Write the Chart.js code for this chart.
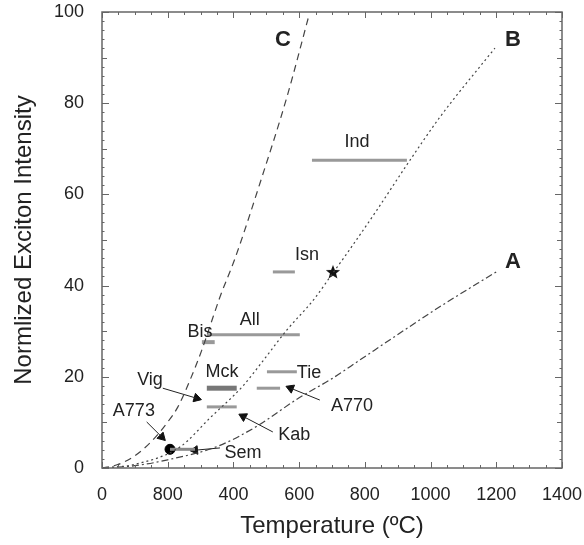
<!DOCTYPE html>
<html>
<head>
<meta charset="utf-8">
<script src="https://cdn.jsdelivr.net/npm/chart.js@4.4.1/dist/chart.umd.min.js"></script>
<style>body{margin:0;background:#fff}</style>
</head>
<body>
<canvas id="excitonChart" width="584" height="545"></canvas>
<script>
// curves: [temperature, intensity]
var curveA = [[0,0],[100,0.5],[200,1.8],[350,4.7],[470,9.1],[600,15.4],[700,19.6],[785,23.7],[907,29.6],[1029,35.4],[1200,43]];
var curveB = [[0,0],[100,0.8],[237,4.6],[329,11],[429,18],[490,23.5],[563,30.3],[643,36.8],[703,42.8],[745,47],[836,56.5],[928,66.5],[1029,77],[1196,92.1]];
var curveC = [[0,0],[46,0.7],[94,2.4],[146,5.5],[198,9.9],[231,13.4],[268,19.3],[304,25.9],[338,33.1],[359,37.5],[405,46],[481,62.5],[563,81.4],[630,99.3]];

// temperature ranges drawn as horizontal bars
var rangeNames = ['Ind', 'Isn', 'All', 'Bis', 'Mck', 'Mck2', 'Tie', 'A770', 'Sem'];
var rangeFrom  = [639, 520, 319, 304, 319, 319, 502, 471, 207];
var rangeTo    = [928, 587, 602, 343, 410, 410, 593, 542, 283];
var rangeLevel = [67.5, 43, 29.2, 27.6, 17.5, 13.4, 21.1, 17.5, 4.1];

// arrows: tip (triangle) and tail (near the label)
var arrowNames = ['Vig', 'A773', 'Kab', 'Sem', 'A770'];
var arrowTip   = [[288,15.3], [182,6.8], [430,11.3], [283,3.9], [574,17.5]];
var arrowTail  = [[185,17.5], [136,10.1], [520,7.9], [359,4.4], [663,14.9]];

var starPoint = [[703,43]];   // Isn
var dotPoint  = [[207,4.1]];  // A773

var tickLabels = ['0', '800', '400', '600', '800', '1000', '1200', '1400'];

function pts(list) {
  return list.map(function (p) { return {x: p[0], y: p[1]}; });
}

var star = document.createElement('canvas');
star.width = star.height = 18;
var sc = star.getContext('2d');
sc.beginPath();
for (var k = 0; k < 10; k++) {
  var r = k % 2 ? 3.2 : 7.5;
  var ang = -Math.PI / 2 + k * Math.PI / 5;
  sc.lineTo(9 + r * Math.cos(ang), 9.5 + r * Math.sin(ang));
}
sc.closePath();
sc.fillStyle = '#111';
sc.fill();

var datasets = [
  {data: pts(curveA), borderDash: [7, 3, 2, 3]},
  {data: pts(curveB), borderDash: [2, 3]},
  {data: pts(curveC), borderDash: [7, 5]}
].map(function (d) {
  d.showLine = true;
  d.borderColor = '#444';
  d.borderWidth = 1.2;
  d.pointRadius = 0;
  d.cubicInterpolationMode = 'monotone';
  return d;
});

rangeNames.forEach(function (name, i) {
  datasets.push({
    data: [{x: rangeFrom[i], y: rangeLevel[i]}, {x: rangeTo[i], y: rangeLevel[i]}],
    showLine: true,
    borderColor: name === 'Mck' ? '#777' : (name === 'Sem' ? '#888' : '#999'),
    borderWidth: name === 'Mck' ? 5 : (name === 'Bis' ? 4 : 3),
    pointRadius: 0
  });
});

arrowNames.forEach(function (name, i) {
  datasets.push({
    data: pts([arrowTail[i], arrowTip[i]]),
    showLine: true,
    borderColor: '#222',
    borderWidth: 1,
    pointRadius: 0
  });
});

datasets.push({
  data: pts(arrowTip),
  pointStyle: 'triangle',
  pointRadius: 5,
  backgroundColor: '#111',
  borderColor: '#111',
  pointRotation: function (c) {
    var i = c.dataIndex, xs = c.chart.scales.x, ys = c.chart.scales.y;
    if (i === undefined || !xs || !ys) return 0;
    var dx = xs.getPixelForValue(arrowTip[i][0]) - xs.getPixelForValue(arrowTail[i][0]);
    var dy = ys.getPixelForValue(arrowTip[i][1]) - ys.getPixelForValue(arrowTail[i][1]);
    return Math.atan2(dx, -dy) * 180 / Math.PI;
  }
});
datasets.push({data: pts(dotPoint), pointStyle: 'circle', pointRadius: 5, backgroundColor: '#000', borderColor: '#000'});
datasets.push({data: pts(starPoint), pointStyle: star, pointRadius: 8});

// text notes placed in data units
var notes = [
  ['Ind', 776, 71.5], ['Isn', 624, 46.7], ['All', 450, 32.5], ['Bis', 298, 29.8],
  ['Mck', 365, 21], ['Tie', 630, 20.8], ['A770', 761, 13.6], ['Vig', 146, 19.3],
  ['A773', 97, 12.5], ['Kab', 585, 7.2], ['Sem', 429, 3.3]
];
var curveNames = [['A', 1251, 45.2], ['B', 1251, 93.9], ['C', 551, 93.9]];

var framePlugin = {
  id: 'frameAndTicks',
  afterDatasetsDraw: function (chart) {
    var ctx = chart.ctx, a = chart.chartArea, xs = chart.scales.x, ys = chart.scales.y;
    ctx.save();
    ctx.strokeStyle = '#666';
    ctx.lineWidth = 1;
    ctx.beginPath();
    for (var t = 0; t <= 1400; t += 50) {
      var px = Math.round(xs.getPixelForValue(t)) + 0.5;
      var len = t % 200 === 0 ? 6 : 3;
      ctx.moveTo(px, a.bottom); ctx.lineTo(px, a.bottom - len);
      ctx.moveTo(px, a.top); ctx.lineTo(px, a.top + len);
    }
    for (var v = 0; v <= 100; v += 2) {
      var py = Math.round(ys.getPixelForValue(v)) + 0.5;
      var l = v % 20 === 0 ? 7 : (v % 10 === 0 ? 5 : 2.5);
      ctx.moveTo(a.left, py); ctx.lineTo(a.left + l, py);
      ctx.moveTo(a.right, py); ctx.lineTo(a.right - l, py);
    }
    ctx.stroke();
    ctx.lineWidth = 1.5;
    ctx.strokeRect(a.left, a.top, a.right - a.left, a.bottom - a.top);

    ctx.textAlign = 'center';
    ctx.textBaseline = 'middle';
    ctx.fillStyle = '#222';
    ctx.font = '18px "Liberation Sans", Arial, sans-serif';
    notes.forEach(function (n) {
      ctx.fillText(n[0], xs.getPixelForValue(n[1]), ys.getPixelForValue(n[2]));
    });
    ctx.font = 'bold 22px "Liberation Sans", Arial, sans-serif';
    curveNames.forEach(function (n) {
      ctx.fillText(n[0], xs.getPixelForValue(n[1]), ys.getPixelForValue(n[2]));
    });
    ctx.restore();
  }
};

var excitonChart = new Chart('excitonChart', {
  type: 'scatter',
  data: {datasets: datasets},
  options: {
    responsive: false,
    animation: false,
    layout: {padding: {left: 0, top: 12, right: 22, bottom: 0}},
    plugins: {legend: {display: false}, tooltip: {enabled: false}},
    scales: {
      x: {
        type: 'linear', min: 0, max: 1400,
        grid: {display: false}, border: {display: false},
        afterFit: function (s) { s.height = 77; s.paddingLeft = 0; s.paddingRight = 0; },
        ticks: {
          stepSize: 200, padding: 8, color: '#222',
          font: {family: '"Liberation Sans", Arial, sans-serif', size: 18},
          callback: function (value, index) { return tickLabels[index]; }
        },
        title: {
          display: true, text: 'Temperature (\u00BAC)', color: '#222',
          font: {family: '"Liberation Sans", Arial, sans-serif', size: 24},
          padding: {top: 0, bottom: 4}
        }
      },
      y: {
        type: 'linear', min: 0, max: 100,
        grid: {display: false}, border: {display: false},
        afterFit: function (s) { s.width = 102; s.paddingTop = 0; s.paddingBottom = 0; },
        ticks: {
          stepSize: 20, padding: 10, color: '#222',
          font: {family: '"Liberation Sans", Arial, sans-serif', size: 18}
        },
        title: {
          display: true, text: 'Normlized Exciton Intensity', color: '#222',
          font: {family: '"Liberation Sans", Arial, sans-serif', size: 24},
          padding: {top: 10, bottom: 0}
        }
      }
    }
  },
  plugins: [framePlugin]
});
</script>
</body>
</html>
